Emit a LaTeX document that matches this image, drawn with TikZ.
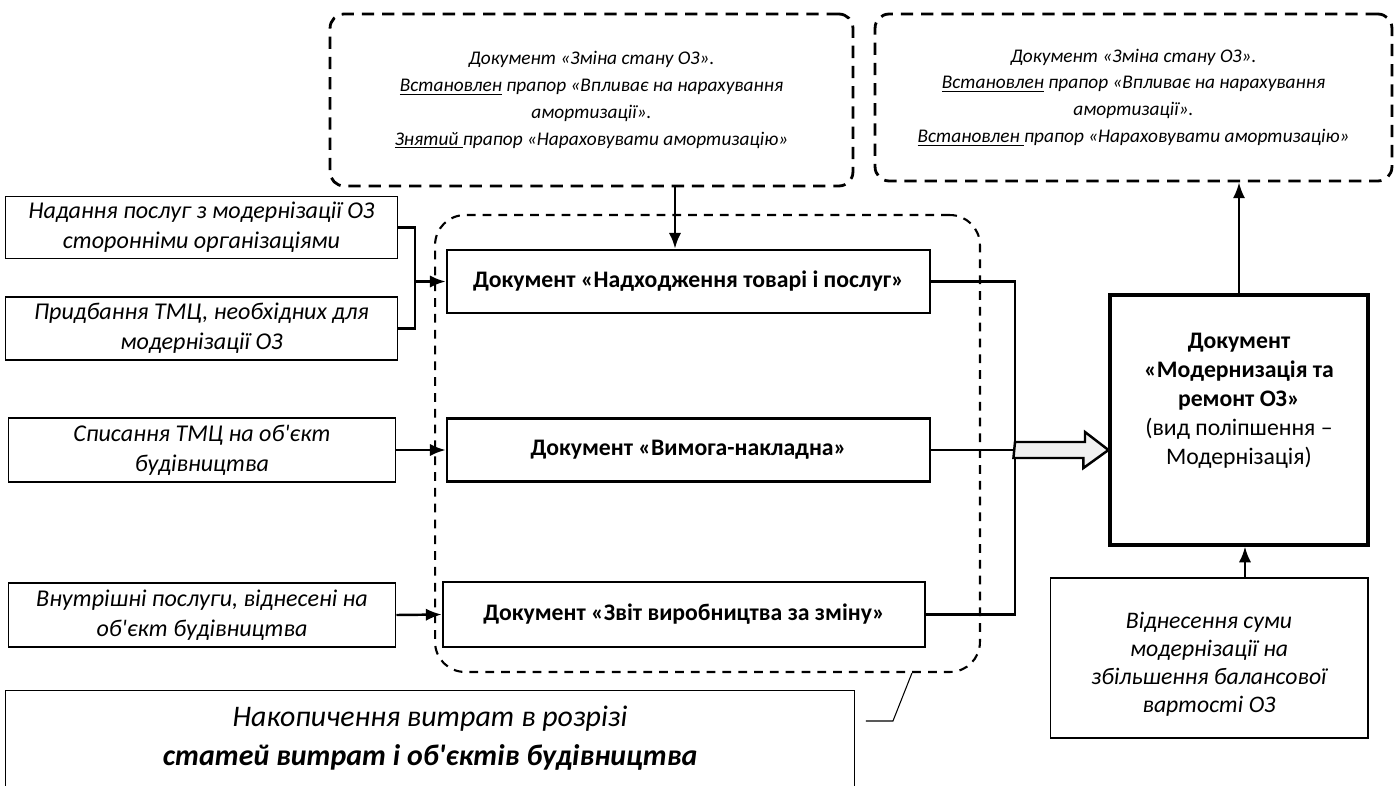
\documentclass[tikz,border=0pt]{standalone}
\usepackage{fontspec}
\setmainfont{Carlito}
\usetikzlibrary{arrows.meta}

\begin{document}
\begin{tikzpicture}[x=0.02cm,y=-0.02cm,
    inbox/.style={draw, line width=0.6pt, align=center, font=\fontsize{13.7}{17}\selectfont\itshape},
    docbox/.style={draw, line width=1.5pt, font=\fontsize{13.5}{16}\selectfont\bfseries},
    flagbox/.style={draw, line width=1.6pt, dash pattern=on 7pt off 4.5pt, rounded corners=8pt, align=center, font=\fontsize{11}{15.3}\selectfont\itshape},
    arr/.style={-{Latex[length=9pt,width=7pt]}, line width=1.4pt},
    link/.style={line width=1.5pt}]
    \useasboundingbox (0,0) rectangle (1397,785);
    \node[flagbox, minimum width=10.46cm, minimum height=3.44cm] (Z1) at (591.5,100) {Документ «Зміна стану ОЗ».\\ \underline{Встановлен} прапор «Впливає на нарахування\\ амортизації».\\ \underline{Знятий\ }прапор «Нараховувати амортизацію»};
    \node[flagbox, minimum width=10.34cm, minimum height=3.34cm] (Z2) at (1133.5,97.5) {Документ «Зміна стану ОЗ».\\ \underline{Встановлен} прапор «Впливає на нарахування\\ амортизації».\\ \underline{Встановлен\ }прапор «Нараховувати амортизацію»};
    \node[inbox, minimum width=7.86cm, minimum height=1.22cm] (N1) at (201.5,227.5) {Надання послуг з модернізації ОЗ\\ сторонніми організаціями};
    \node[inbox, minimum width=7.86cm, minimum height=1.26cm] (N2) at (201.5,328.5) {Придбання ТМЦ, необхідних для\\ модернізації ОЗ};
    \node[inbox, minimum width=7.76cm, minimum height=1.28cm] (N3) at (202,450) {Списання ТМЦ на об\textquotesingle єкт\\ будівництва};
    \node[inbox, minimum width=7.76cm, minimum height=1.28cm] (N4) at (202,615) {Внутрішні послуги, віднесені на\\ об\textquotesingle єкт будівництва};
    \node[draw, line width=1.2pt, dash pattern=on 5pt off 4pt, rounded corners=0.6cm, minimum width=10.9cm, minimum height=9.14cm] (G) at (707.5,443.5) {};
    \node[docbox, minimum width=9.66cm, minimum height=1.26cm] (D1) at (688.5,281.5) {Документ «Надходження товарі і послуг»};
    \node[docbox, minimum width=9.66cm, minimum height=1.26cm] (D2) at (688.5,450) {Документ «Вимога-накладна»};
    \node[docbox, minimum width=9.64cm, minimum height=1.3cm] (D3) at (684,614.5) {Документ «Звіт виробництва за зміну»};
    \node[draw, line width=1.8pt, minimum width=5.16cm, minimum height=5cm,
      label={[align=center, yshift=11pt, font=\fontsize{13.5}{16.5}\selectfont]center:\textbf{Документ}\\ \textbf{«Модернизація та}\\ \textbf{ремонт ОЗ»}\\ (вид поліпшення –\\ Модернізація)}] (M) at (1239,420) {};
    \node[draw, line width=0.6pt, minimum width=6.36cm, minimum height=3.2cm,
      label={[align=center, yshift=-3.5pt, font=\fontsize{13.5}{16}\selectfont\itshape]center:Віднесення суми\\ модернізації на\\ збільшення балансової\\ вартості ОЗ}] (V) at (1209,658) {};
    \node[draw, line width=0.6pt, anchor=north, minimum width=17cm, inner ysep=9pt, align=center, font=\fontsize{17}{22}\selectfont\itshape] (B) at (430,690) {Накопичення витрат в розрізі\\ \textbf{статей витрат і об\textquotesingle єктів будівництва}};
    \coordinate (K) at (415,281.5);
    \coordinate (J) at (1015,450);
    \coordinate (a) at ([xshift=-0.27cm]D1.north);
    \coordinate (v) at ([xshift=0.72cm]V.north);
    \coordinate (c) at ([xshift=4.09cm]G.south);
    \draw[link] (N1.east) -| (K) |- (N2.east);
    \draw[arr] (K) -- (D1.west);
    \draw[arr] (N3.east) -- (D2.west);
    \draw[arr] (N4.east) -- (D3.west);
    \draw[arr] (a |- Z1.south) -- (a);
    \draw[link] (D1.east) -| (J |- D3.east) -- (D3.east);
    \draw[link] (D2.east) -- (J);
    \draw[line width=1.4pt, fill=gray!12] (J) ++(0,-8) -- ++(70,0) -- ++(0,-10) -- (M.west |- J) -- ++(-25,18) -- ++(0,-10) -- ++(-70,0) -- cycle;
    \draw[arr] (M.north) -- (M.north |- Z2.south);
    \draw[arr] (v) -- (v |- M.south);
    \draw[line width=0.6pt] (c) -- ++(-19,48) -- ++(-27,0);
\end{tikzpicture}
\end{document}
